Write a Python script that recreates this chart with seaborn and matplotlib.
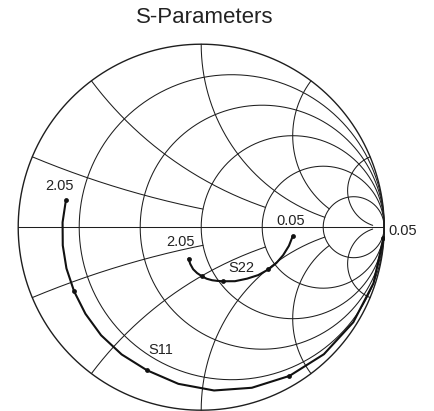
import numpy as np
import pandas as pd
import matplotlib
matplotlib.use('Agg')
import matplotlib.pyplot as plt
import seaborn as sns

# Frequency sweep (GHz) and reflection coefficients
freq_ghz = [0.05, 0.175, 0.3, 0.425, 0.55, 0.675, 0.8, 0.925, 1.05,
            1.175, 1.3, 1.425, 1.55, 1.675, 1.8, 1.925, 2.05]
s11_mag = [0.997, 0.99, 0.98, 0.965, 0.945, 0.92, 0.895, 0.865, 0.836,
           0.82, 0.805, 0.79, 0.778, 0.77, 0.763, 0.758, 0.754]
s11_ang = [-3.5, -18, -32, -46, -59.3, -72.5, -85.5, -98.3, -110.8,
           -122, -132.8, -143.2, -153.2, -163, -172.5, 178, 168.6]
s22_mag = [0.503, 0.49, 0.473, 0.455, 0.434, 0.407, 0.377, 0.348, 0.319,
           0.307, 0.296, 0.283, 0.268, 0.252, 0.234, 0.21, 0.185]
s22_ang = [-5.4, -12, -18.9, -25.5, -32.1, -40, -48.2, -58, -67.8,
           -73, -78.3, -84, -89.2, -95, -100.8, -106.5, -112]
marker_freqs = [0.05, 0.55, 1.05, 1.55, 2.05]

# Smith chart grid: constant r / x values and where the x arcs stop (in r)
grid_values = [0.2, 0.5, 1.0, 2.0, 5.0]
arc_end_r = [1.0, 2.0, 5.0, 5.0, 30.0]

GRID = '#1e1e1e'


def to_gamma(z):
    return (z - 1) / (z + 1)


def build_trace(name, mag, ang):
    g = np.array(mag) * np.exp(1j * np.deg2rad(ang))
    return pd.DataFrame({'freq': freq_ghz, 're': g.real, 'im': g.imag, 'trace': name})


sns.set_style('white')
plt.rcParams['font.family'] = ['Liberation Sans', 'DejaVu Sans']

fig = plt.figure(figsize=(4.35, 4.11), dpi=100)
ax = fig.add_axes([18.2 / 435, 0.8 / 411, 366 / 435, 366 / 411])
ax.set_xlim(-1, 1)
ax.set_ylim(-1, 1)
ax.axis('off')

# outer circle and real axis
t = np.linspace(0, 2 * np.pi, 600)
ax.plot(np.cos(t), np.sin(t), color=GRID, lw=1.0, clip_on=False)
ax.plot([-1, 1], [0, 0], color=GRID, lw=0.75, clip_on=False)

# constant resistance circles
for r in grid_values:
    c, rad = r / (1 + r), 1 / (1 + r)
    ax.plot(c + rad * np.cos(t), rad * np.sin(t), color=GRID, lw=0.75, clip_on=False)

# constant reactance arcs, clipped at a given resistance
for x, rend in zip(grid_values, arc_end_r):
    rr = np.concatenate([[0], np.geomspace(1e-3, rend, 400)])
    for sgn in (1, -1):
        g = to_gamma(rr + 1j * sgn * x)
        ax.plot(g.real, g.imag, color=GRID, lw=0.75, clip_on=False)

df = pd.concat([build_trace('S11', s11_mag, s11_ang),
                build_trace('S22', s22_mag, s22_ang)], ignore_index=True)

sns.lineplot(data=df, x='re', y='im', units='trace', estimator=None, sort=False,
             color='#111111', lw=1.5, ax=ax, legend=False)
mk = df[df['freq'].round(3).isin(marker_freqs)]
sns.scatterplot(data=mk, x='re', y='im', color='#111111', s=12, linewidth=0,
                ax=ax, legend=False, zorder=5)


# frequency and trace labels
def label(tr, f, text, dx, dy, ha='center'):
    row = df[(df['trace'] == tr) & (np.isclose(df['freq'], f))].iloc[0]
    ax.annotate(text, (row['re'], row['im']), xytext=(dx, dy),
                textcoords='offset pixels', ha=ha, va='center',
                fontsize=10.5, color='#222222', annotation_clip=False)


label('S11', 2.05, '2.05', -6, 14)
label('S11', 0.05, '0.05', 5, 7.5, ha='left')
label('S22', 0.05, '0.05', -2, 15)
label('S22', 2.05, '2.05', -8, 17)
label('S22', 1.05, 'S22', 18, 13)
label('S11', 1.05, 'S11', 14, 20)

ax.set_xlabel('')
ax.set_ylabel('')
fig.text(205 / 435, 1 - 17.5 / 411, 'S-Parameters', ha='center', va='center',
         fontsize=16, color='#222222')

fig.savefig('out.png', dpi=100)
